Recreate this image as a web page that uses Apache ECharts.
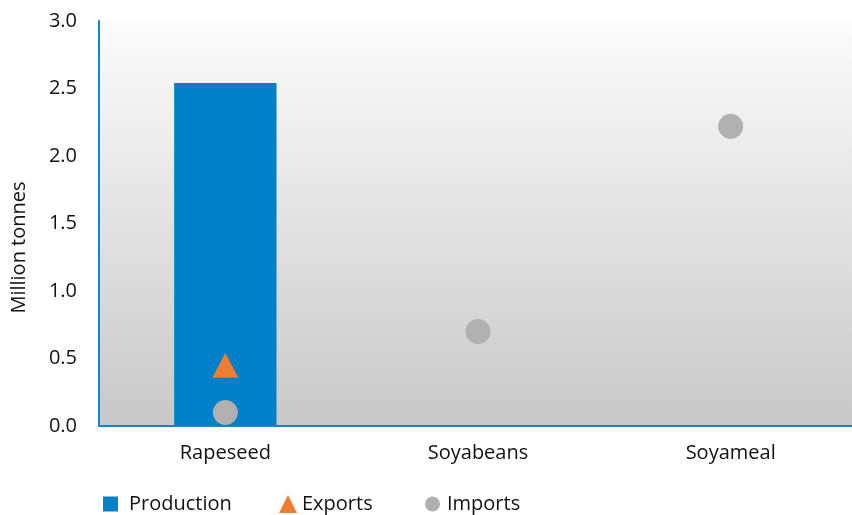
<!DOCTYPE html>
<html><head><meta charset="utf-8">
<script src="https://cdn.jsdelivr.net/npm/echarts@6/dist/echarts.min.js"></script>
<style>html,body{margin:0;padding:0;background:#fff}#c{width:852px;height:515px}</style>
</head><body><div id="c"></div>
<script>
const categories = ['Rapeseed', 'Soyabeans', 'Soyameal'];
const production = [2.54, null, null];
const exportsData = [0.45, null, null];
const imports = [0.10, 0.70, 2.22];
const yTicks = [0, 0.5, 1.0, 1.5, 2.0, 2.5, 3.0];

const FONT = 'Open Sans';
const BLUE = '#0080C8', ORANGE = '#ED7D31', GREY = '#B0B0B0';
function legend(left, name, icon, color, w, pad) {
  return { bottom: 1, left: left, padding: 0, itemWidth: w, itemHeight: w,
    textStyle: { fontSize: 20, color: '#111', fontFamily: FONT, padding: [0, 0, 0, pad] },
    data: [{ name: name, icon: icon, itemStyle: { color: color } }] };
}
const chart = echarts.init(document.getElementById('c'));
chart.setOption({
  animation: false,
  textStyle: { fontFamily: FONT },
  grid: {
    left: 99, top: 21, width: 758, bottom: 89, show: true, borderWidth: 0,
    outerBoundsMode: 'none', containLabel: false,
    backgroundColor: new echarts.graphic.LinearGradient(0, 0, 0, 1, [
      { offset: 0, color: '#fcfcfc' }, { offset: 1, color: '#c8c8c8' }
    ])
  },
  legend: [
    legend(103, 'Production', 'rect', BLUE, 15, 6),
    legend(279, 'Exports', 'triangle', ORANGE, 18, 0),
    legend(425, 'Imports', 'circle', GREY, 15, 2)
  ],
  xAxis: {
    type: 'category', data: categories,
    axisLine: { lineStyle: { color: '#1586CC', width: 2 } },
    axisTick: { show: false },
    axisLabel: { fontSize: 20, color: '#111', margin: 17 }
  },
  yAxis: {
    type: 'value', min: 0, max: 3, interval: 0.5,
    name: 'Million tonnes', nameLocation: 'middle', nameGap: 70,
    nameTextStyle: { fontSize: 20, color: '#111', padding: [0, 48, 0, 0] },
    axisLine: { show: true, lineStyle: { color: '#1586CC', width: 2 } },
    axisTick: { show: false },
    splitLine: { show: false },
    axisLabel: { fontSize: 20, color: '#111', margin: 22,
      formatter: v => yTicks.includes(v) ? v.toFixed(1) : '' }
  },
  series: [
    { name: 'Production', type: 'bar', data: production, barWidth: '40.5%',
      itemStyle: { color: BLUE } },
    { name: 'Exports', type: 'scatter', data: exportsData, symbol: 'triangle', symbolSize: [26, 25],
      itemStyle: { color: ORANGE, opacity: 1 } },
    { name: 'Imports', type: 'scatter', data: imports, symbol: 'circle', symbolSize: 25,
      itemStyle: { color: GREY, opacity: 1 } }
  ]
});
</script></body></html>
